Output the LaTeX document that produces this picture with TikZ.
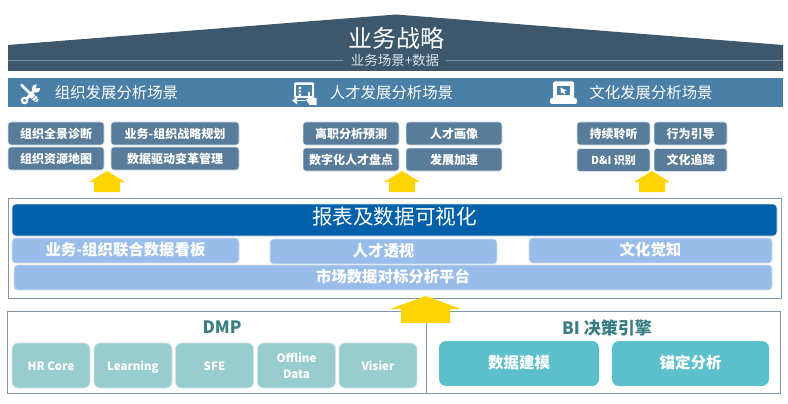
\documentclass[tikz,border=0pt]{standalone}
\usepackage{fontspec}
\setmainfont{Noto Sans CJK SC}
\usetikzlibrary{positioning}
\definecolor{roofc}{RGB}{61,88,108}
\definecolor{bandc}{RGB}{74,127,167}
\definecolor{slatec}{RGB}{88,124,153}
\definecolor{edgec}{RGB}{214,226,236}
\definecolor{framec}{RGB}{130,150,166}
\definecolor{royalc}{RGB}{0,96,170}
\definecolor{skyc}{RGB}{152,189,235}
\definecolor{palec}{RGB}{152,205,207}
\definecolor{tealc}{RGB}{91,192,203}
\definecolor{headc}{RGB}{58,126,132}
\definecolor{arrowc}{RGB}{255,212,0}
\begin{document}
\begin{tikzpicture}[x=1pt, y=-1pt,
  box/.style = {align=center, inner sep=0pt, outer sep=0pt, rounded corners=3pt, text=white, text height=1.04em, text depth=.1em, font=\fontsize{12}{13}\selectfont\bfseries, draw=edgec, line width=.6pt},
  scene/.style = {box, fill=slatec},
  view/.style = {box, fill=skyc, rounded corners=3.5pt, font=\fontsize{15.4}{17}\selectfont\bfseries},
  source/.style = {box, fill=palec, rounded corners=6pt, font=\fontsize{11.5}{16}\selectfont\bfseries, minimum width=78pt, minimum height=45pt},
  engine/.style = {box, fill=tealc, draw=none, rounded corners=7pt, font=\fontsize{15.5}{17}\selectfont\bfseries, minimum height=45pt},
  bandt/.style = {text=white, inner sep=0pt, font=\fontsize{15.4}{17}\selectfont},
  headt/.style = {text=headc, inner sep=0pt, font=\fontsize{17}{19}\selectfont\bfseries}]
  \useasboundingbox (0,0) rectangle (788,404);

  % roof
  \fill[roofc] (8,45) -- (396,14.5) -- (783,45) -- (783,71) -- (8,71) -- cycle;
  \draw[framec, line width=.8pt] (8,60) -- (343,60) (446,60) -- (783,60);
  \node[text=white, inner sep=0pt, font=\fontsize{24}{26}\selectfont] (strategy) at (396,38) {业务战略};
  \node[text=edgec, inner sep=0pt, font=\fontsize{13.5}{15}\selectfont] (strategysub) at (395,60) {业务场景+数据};

  % band
  \fill[bandc] (8,78) rectangle (783,107);
  \node[bandt] (bando) at (116.5,93) {组织发展分析场景};
  \node[bandt] (bandt) at (391.5,93) {人才发展分析场景};
  \node[bandt] (bandc) at (651,93) {文化发展分析场景};

  % icons
  \draw[white, line width=2.8pt, line cap=round] (21.5,85) -- (36,99);
  \draw[white, line width=5pt, line cap=round] (32,95.5) -- (36,99.5);
  \draw[bandc, line width=.5pt] (32,99) -- (36,95) (34.5,101) -- (38.5,97);
  \draw[white, line width=2.8pt] (25,100.5) -- (36,88.5);
  \fill[white] (36,88.5) circle (4.2pt);
  \fill[bandc] (36,88.5) -- (37,83) -- (41.5,87.5) -- cycle;
  \fill[white] (24.5,100.5) circle (3.8pt);
  \fill[bandc] (24.5,100.5) circle (1.5pt);
  \fill[white, rounded corners=1pt] (294,82.5) rectangle (314,98);
  \fill[bandc] (296,85) rectangle (312,96);
  \fill[white] (298.5,87) rectangle (301,89) (298.5,90.5) rectangle (301,92.5) (298.5,94) rectangle (301,96);
  \fill[white] (308,92) -- (310,92) -- (310,97) -- (316.5,98) -- (316.5,105) -- (309.5,105) -- (306,99) -- (308,99) -- cycle;
  \draw[white, line width=1.6pt, line cap=round] (305,100.5) -- (294.5,100.5);
  \fill[white] (292,100.5) -- (297,97) -- (297,104.5) -- cycle;
  \fill[white, rounded corners=1.5pt] (553,81.5) rectangle (574,99);
  \fill[white, rounded corners=2pt] (550,98) rectangle (577,104);
  \fill[bandc] (557,86) rectangle (570,95);
  \fill[white] (560.5,87.5) -- (566.5,90.5) -- (564,91.5) -- (565.5,94) -- (564,94.3) -- (562.8,92) -- (561,93.5) -- cycle;

  % scene boxes
  \node[scene, minimum width=96pt, minimum height=23pt] (overview) at (56,133.5) {组织全景诊断};
  \node[scene, minimum width=128pt, minimum height=23pt] (planning) at (175,133.5) {业务-组织战略规划};
  \node[scene, minimum width=96pt, minimum height=23pt] (resmap) at (56,158.5) {组织资源地图};
  \node[scene, minimum width=128pt, minimum height=23pt] (change) at (175,158.5) {数据驱动变革管理};
  \node[scene, minimum width=96pt, minimum height=23pt] (attrition) at (351,133.5) {离职分析预测};
  \node[scene, minimum width=96pt, minimum height=23pt] (profile) at (454,133.5) {人才画像};
  \node[scene, minimum width=96pt, minimum height=23pt] (inventory) at (351,159.5) {数字化人才盘点};
  \node[scene, minimum width=96pt, minimum height=23pt] (speedup) at (454,159.5) {发展加速};
  \node[scene, minimum width=73pt, minimum height=23pt] (listen) at (613.5,133.5) {持续聆听};
  \node[scene, minimum width=73pt, minimum height=23pt] (guide) at (690.5,133.5) {行为引导};
  \node[scene, minimum width=73pt, minimum height=23pt, font=\fontsize{11}{13}\selectfont\bfseries] (dni) at (613.5,160) {D\&I 识别};
  \node[scene, minimum width=73pt, minimum height=23pt] (track) at (690.5,160) {文化追踪};

  \foreach \x in {107,402,652}
    \fill[arrowc] (\x,171) -- (\x+18,182) -- (\x+13,182) -- (\x+13,192) -- (\x-13,192) -- (\x-13,182) -- (\x-18,182) -- cycle;

  % reporting layer
  \node[draw=framec, line width=.9pt, minimum width=773pt, minimum height=100pt, inner sep=0pt] (reportbox) at (394.5,248) {};
  \node[box, fill=royalc, text=white, minimum width=765pt, minimum height=32pt, rounded corners=4pt, font=\fontsize{20.6}{23}\selectfont\mdseries] (report) at (394.5,220) {报表及数据可视化};
  \node[view, minimum width=227pt, minimum height=25pt] (dashboard) at (125.5,250.5) {业务-组织联合数据看板};
  \node[view, minimum width=227pt, minimum height=25pt] (insight) at (383.5,251.5) {人才透视};
  \node[view, minimum width=243pt, minimum height=25pt] (culture) at (650.5,250.5) {文化觉知};
  \node[view, minimum width=758pt, minimum height=25pt] (market) at (393,277.5) {市场数据对标分析平台};

  % data layer
  \node[draw=framec, line width=.9pt, minimum width=773pt, minimum height=82pt, inner sep=0pt] (databox) at (393.5,352) {};
  \node[headt] (dmp) at (222,327) {DMP};
  \node[headt] (bi) at (607,328) {BI 决策引擎};
  \node[source] (hrcore) at (51,365.5) {HR Core};
  \node[source] (learning) at (133,365.5) {Learning};
  \node[source] (sfe) at (214.5,365.5) {SFE};
  \node[source, text height={}, text depth={}] (offline) at (296.5,365.5) {Offline\\Data};
  \node[source] (visier) at (378,365.5) {Visier};
  \node[engine, minimum width=160pt] (modeling) at (519,363.5) {数据建模};
  \node[engine, minimum width=157pt] (anchor) at (690.5,363.5) {锚定分析};

  \fill[arrowc] (426,296) -- (461,309) -- (450,309) -- (450,323) -- (401,323) -- (401,309) -- (390,309) -- cycle;
  \draw[framec, line width=.9pt] (426,323) -- (426,393);
\end{tikzpicture}
\end{document}
